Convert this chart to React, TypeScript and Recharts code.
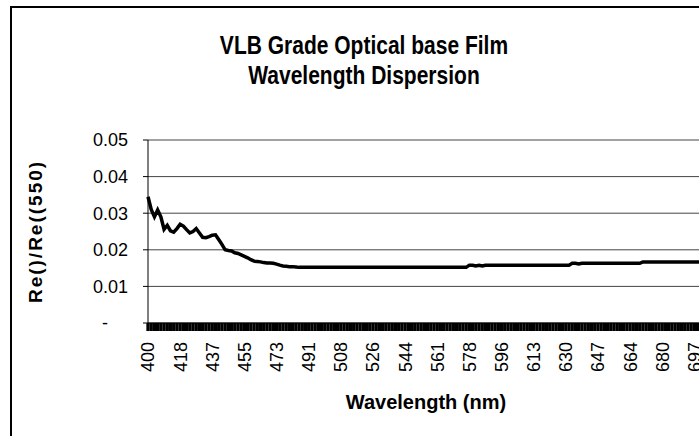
import React from 'react';
import { LineChart, Line, XAxis, YAxis, CartesianGrid, Label } from 'recharts';

// wavelength tick labels, one every 10 samples
const TICK_LABELS = [400, 418, 437, 455, 473, 491, 508, 526, 544, 561, 578, 596, 613, 630, 647, 664, 680, 697];

// Re(λ)/Re(550), one value per sample
const RATIO = [
  0.0345, 0.0310, 0.0290, 0.0309, 0.0290, 0.0256, 0.0267, 0.0252, 0.0248, 0.0258,
  0.0270, 0.0265, 0.0255, 0.0246, 0.0250, 0.0258, 0.0246, 0.0234, 0.0233, 0.0236,
  0.0240, 0.0241, 0.0228, 0.0215, 0.0200, 0.0198, 0.0197, 0.0192, 0.0190, 0.0186,
  0.0182, 0.0178, 0.0173, 0.0169, 0.0168, 0.0167, 0.0165, 0.0164, 0.0164, 0.0163,
  0.0161, 0.0158, 0.0156, 0.0155, 0.0154, 0.0154, 0.0153, 0.0152, 0.0152, 0.0152,
  0.0152, 0.0152, 0.0152, 0.0152, 0.0152, 0.0152, 0.0152, 0.0152, 0.0152, 0.0152,
  0.0152, 0.0152, 0.0152, 0.0152, 0.0152, 0.0152, 0.0152, 0.0152, 0.0152, 0.0152,
  0.0152, 0.0152, 0.0152, 0.0152, 0.0152, 0.0152, 0.0152, 0.0152, 0.0152, 0.0152,
  0.0152, 0.0152, 0.0152, 0.0152, 0.0152, 0.0152, 0.0152, 0.0152, 0.0152, 0.0152,
  0.0152, 0.0152, 0.0152, 0.0152, 0.0152, 0.0152, 0.0152, 0.0152, 0.0152, 0.0152,
  0.0158, 0.0158, 0.0156, 0.0158, 0.0156, 0.0158, 0.0158, 0.0158, 0.0158, 0.0158,
  0.0158, 0.0158, 0.0158, 0.0158, 0.0158, 0.0158, 0.0158, 0.0158, 0.0158, 0.0158,
  0.0158, 0.0158, 0.0158, 0.0158, 0.0158, 0.0158, 0.0158, 0.0158, 0.0158, 0.0158,
  0.0158, 0.0158, 0.0163, 0.0163, 0.0161, 0.0163, 0.0163, 0.0163, 0.0163, 0.0163,
  0.0163, 0.0163, 0.0163, 0.0163, 0.0163, 0.0163, 0.0163, 0.0163, 0.0163, 0.0163,
  0.0163, 0.0163, 0.0163, 0.0163, 0.0167, 0.0167, 0.0167, 0.0167, 0.0167, 0.0167,
  0.0167, 0.0167, 0.0167, 0.0167, 0.0167, 0.0167, 0.0167, 0.0167, 0.0167, 0.0167,
  0.0167, 0.0167, 0.0167, 0.0167,
];

const Y_TICKS = [0, 0.01, 0.02, 0.03, 0.04, 0.05];

const data = RATIO.map((ratio, idx) => ({ idx, ratio }));

const FONT = '"Liberation Sans", Arial, sans-serif';

const WaveTick = (props: any) => {
  const { x, y, payload } = props;
  const i = Number(payload.value);
  if (i % 10 !== 0) return <g />;
  return (
    <text
      x={x}
      y={y}
      transform={`rotate(-90 ${x} ${y})`}
      textAnchor="end"
      dy="0.36em"
      fontSize={18}
      fontFamily={FONT}
      fill="#000"
    >
      {TICK_LABELS[i / 10]}
    </text>
  );
};

const App: React.FC = () => {
  return (
    <div
      style={{
        position: 'fixed',
        left: 0,
        top: 0,
        width: 699,
        height: 436,
        overflow: 'hidden',
        background: '#fff',
        fontFamily: FONT,
      }}
    >
      <div
        style={{
          position: 'absolute',
          left: 10,
          top: 6,
          width: 708,
          height: 460,
          border: '2px solid #000',
          boxSizing: 'border-box',
        }}
      />
      <div
        style={{
          position: 'absolute',
          left: 10,
          width: 708,
          top: 30,
          textAlign: 'center',
          fontWeight: 'bold',
          fontSize: 25,
          lineHeight: '30px',
          color: '#000',
          transform: 'scaleX(0.84)',
          transformOrigin: '354px 0',
        }}
      >
        VLB Grade Optical base Film
        <br />
        Wavelength Dispersion
      </div>
      <div style={{ position: 'absolute', left: 0, top: 0 }}>
        <LineChart
          width={760}
          height={436}
          data={data}
          margin={{ top: 140, right: 56, bottom: 13, left: 8 }}
        >
          <CartesianGrid horizontal vertical={false} stroke="#444" />
          <XAxis
            dataKey="idx"
            type="category"
            interval={0}
            height={100}
            tickSize={8}
            tickMargin={11}
            axisLine={{ stroke: '#000' }}
            tickLine={{ stroke: '#000', strokeWidth: 3.3 }}
            tick={<WaveTick />}
          >
            <Label
              value="Wavelength (nm)"
              position="insideBottom"
              offset={14}
              style={{ fontWeight: 'bold', fontSize: 20, fill: '#000', fontFamily: FONT }}
            />
          </XAxis>
          <YAxis
            width={140}
            domain={[0, 0.05]}
            ticks={Y_TICKS}
            interval={0}
            tickSize={5}
            tickMargin={15}
            axisLine={{ stroke: '#000' }}
            tickLine={{ stroke: '#000' }}
            tick={{ fontSize: 18, fill: '#000', fontFamily: FONT }}
            tickFormatter={(v: number) => (v === 0 ? '-\u00A0\u00A0\u00A0\u00A0' : v.toFixed(2))}
          >
            <Label
              value="Re()/Re((550)"
              angle={-90}
              position="insideLeft"
              offset={27}
              style={{
                textAnchor: 'middle',
                fontWeight: 'bold',
                fontSize: 19,
                letterSpacing: 2,
                fill: '#000',
                fontFamily: FONT,
              }}
            />
          </YAxis>
          <Line
            type="linear"
            dataKey="ratio"
            stroke="#000"
            strokeWidth={3.5}
            dot={false}
            isAnimationActive={false}
          />
        </LineChart>
      </div>
    </div>
  );
};

export default App;
